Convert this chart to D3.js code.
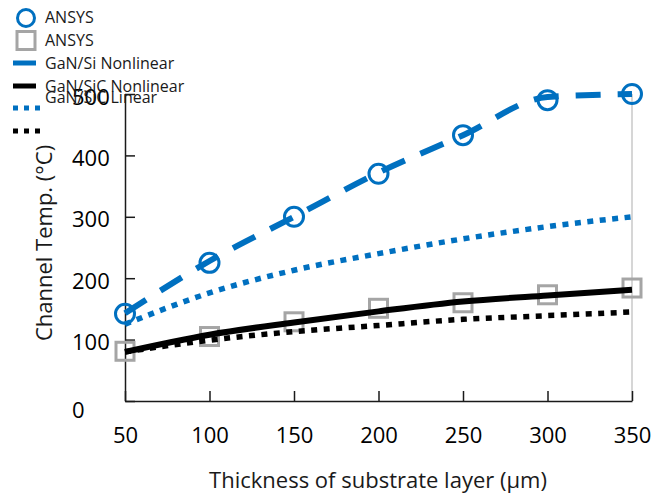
<!DOCTYPE html>
<html>
<head>
<meta charset="utf-8">
<script src="https://cdn.jsdelivr.net/npm/d3@7"></script>
<style>
  body { margin: 0; background: #fff; }
  svg { display: block; font-family: "Open Sans", sans-serif; }
</style>
</head>
<body>
<div id="chart"></div>
<script>
// thickness values (um)
var thickness = [50, 100, 150, 200, 250, 300, 350];
var xTicks = [50, 100, 150, 200, 250, 300, 350];
var yTicks = [0, 100, 200, 300, 400, 500];

// ANSYS simulation points
var ansysSi = [142, 225, 300, 370, 433, 490, 500];
var ansysSiC = [81, 105, 129, 151, 160, 173, 184];

// model curves
var siNonlinear = [143, 228, 300, 372, 433, 495, 500];
var sicNonlinear = [80, 108, 128, 146, 162, 172, 181];
var siLinear = [125, 176, 213, 240, 264, 284, 300];
var sicLinear = [80, 99, 113, 123, 133, 139, 145];

var legendLabels = ["ANSYS", "ANSYS", "GaN/Si Nonlinear", "GaN/SiC Nonlinear", "GaN/SiC Linear", ""];

var blue = "#0070c0", grey = "#a5a5a5";

var width = 654, height = 493;

var svg = d3.select("#chart").append("svg")
    .attr("width", width)
    .attr("height", height);

// set the ranges
var x = d3.scaleLinear().domain([50, 350]).range([125, 632]);
var y = d3.scaleLinear().domain([0, 500]).range([401, 94]);

// right-hand light border
svg.append("line")
    .attr("x1", x(350)).attr("x2", x(350))
    .attr("y1", y(500)).attr("y2", y(0))
    .attr("stroke", "#c8c8c8")
    .attr("stroke-width", 1.5);

// x axis, ticks pointing inward
var xAxis = svg.append("g")
    .attr("transform", "translate(0," + y(0) + ")")
    .call(d3.axisBottom(x).tickValues(xTicks).tickSizeInner(-10).tickSizeOuter(0).tickPadding(26));
xAxis.selectAll("text")
    .attr("font-size", 22)
    .attr("font-family", "Open Sans")
    .attr("fill", "#000");

// y axis, labels left-aligned like the original
var yAxis = svg.append("g")
    .attr("transform", "translate(" + x(50) + ",0)")
    .call(d3.axisLeft(y).tickValues(yTicks).tickSizeInner(-10).tickSizeOuter(0));
yAxis.selectAll("text")
    .attr("x", -53)
    .attr("y", function (d) { return d === 0 ? 9 : 3; })
    .attr("text-anchor", "start")
    .attr("font-size", 22)
    .attr("font-family", "Open Sans")
    .attr("fill", "#000");

svg.selectAll(".domain, .tick line")
    .attr("stroke", "#1a1a1a")
    .attr("stroke-width", 1.5);

// axis titles
svg.append("text")
    .attr("x", 378)
    .attr("y", 488)
    .attr("text-anchor", "middle")
    .attr("font-size", 22)
    .attr("fill", "#1a1a1a")
    .text("Thickness of substrate layer (µm)");

svg.append("text")
    .attr("transform", "translate(52,243) rotate(-90)")
    .attr("text-anchor", "middle")
    .attr("font-size", 22)
    .attr("fill", "#1a1a1a")
    .text("Channel Temp. (°C)");

function rows(vals) {
    return thickness.map(function (t, i) { return { t: t, v: vals[i] }; });
}

var line = d3.line()
    .x(function (d) { return x(d.t); })
    .y(function (d) { return y(d.v); })
    .curve(d3.curveMonotoneX);

// ANSYS markers
svg.append("g").selectAll("circle")
    .data(rows(ansysSi))
    .enter().append("circle")
    .attr("cx", function (d) { return x(d.t); })
    .attr("cy", function (d) { return y(d.v); })
    .attr("r", 9.5)
    .attr("fill", "none")
    .attr("stroke", blue)
    .attr("stroke-width", 3);

svg.append("g").selectAll("rect")
    .data(rows(ansysSiC))
    .enter().append("rect")
    .attr("x", function (d) { return x(d.t) - 9; })
    .attr("y", function (d) { return y(d.v) - 9; })
    .attr("width", 18)
    .attr("height", 18)
    .attr("fill", "none")
    .attr("stroke", grey)
    .attr("stroke-width", 3);

// model lines
var series = [
    { vals: siLinear, color: blue, dash: "6,6.5" },
    { vals: sicLinear, color: "#000", dash: "6,6.5" },
    { vals: sicNonlinear, color: "#000", dash: null },
    { vals: siNonlinear, color: blue, dash: "25,17" }
];
series.forEach(function (s) {
    svg.append("path")
        .datum(rows(s.vals))
        .attr("d", line)
        .attr("fill", "none")
        .attr("stroke", s.color)
        .attr("stroke-width", s.dash === "6,6.5" ? 5.5 : 6)
        .attr("stroke-dasharray", s.dash);
});

// legend
var lg = svg.append("g");
lg.append("circle").attr("cx", 26).attr("cy", 18).attr("r", 8.5)
    .attr("fill", "none").attr("stroke", blue).attr("stroke-width", 3);
lg.append("rect").attr("x", 17).attr("y", 31.5).attr("width", 18).attr("height", 18)
    .attr("fill", "none").attr("stroke", grey).attr("stroke-width", 3);
lg.append("line").attr("x1", 13).attr("x2", 36).attr("y1", 63).attr("y2", 63)
    .attr("stroke", blue).attr("stroke-width", 5);
lg.append("line").attr("x1", 13).attr("x2", 36).attr("y1", 86).attr("y2", 86)
    .attr("stroke", "#000").attr("stroke-width", 5);
lg.append("line").attr("x1", 13).attr("x2", 41).attr("y1", 108).attr("y2", 108)
    .attr("stroke", blue).attr("stroke-width", 5).attr("stroke-dasharray", "5,6");
lg.append("line").attr("x1", 13).attr("x2", 41).attr("y1", 131).attr("y2", 131)
    .attr("stroke", "#000").attr("stroke-width", 5).attr("stroke-dasharray", "5,6");

var labelY = [23, 46, 69, 92, 103, 0];
lg.selectAll("text.lab")
    .data(legendLabels)
    .enter().append("text")
    .attr("class", "lab")
    .attr("x", 45)
    .attr("y", function (d, i) { return labelY[i]; })
    .attr("font-size", 16)
    .attr("fill", "#1a1a1a")
    .text(function (d) { return d; });
</script>
</body>
</html>
